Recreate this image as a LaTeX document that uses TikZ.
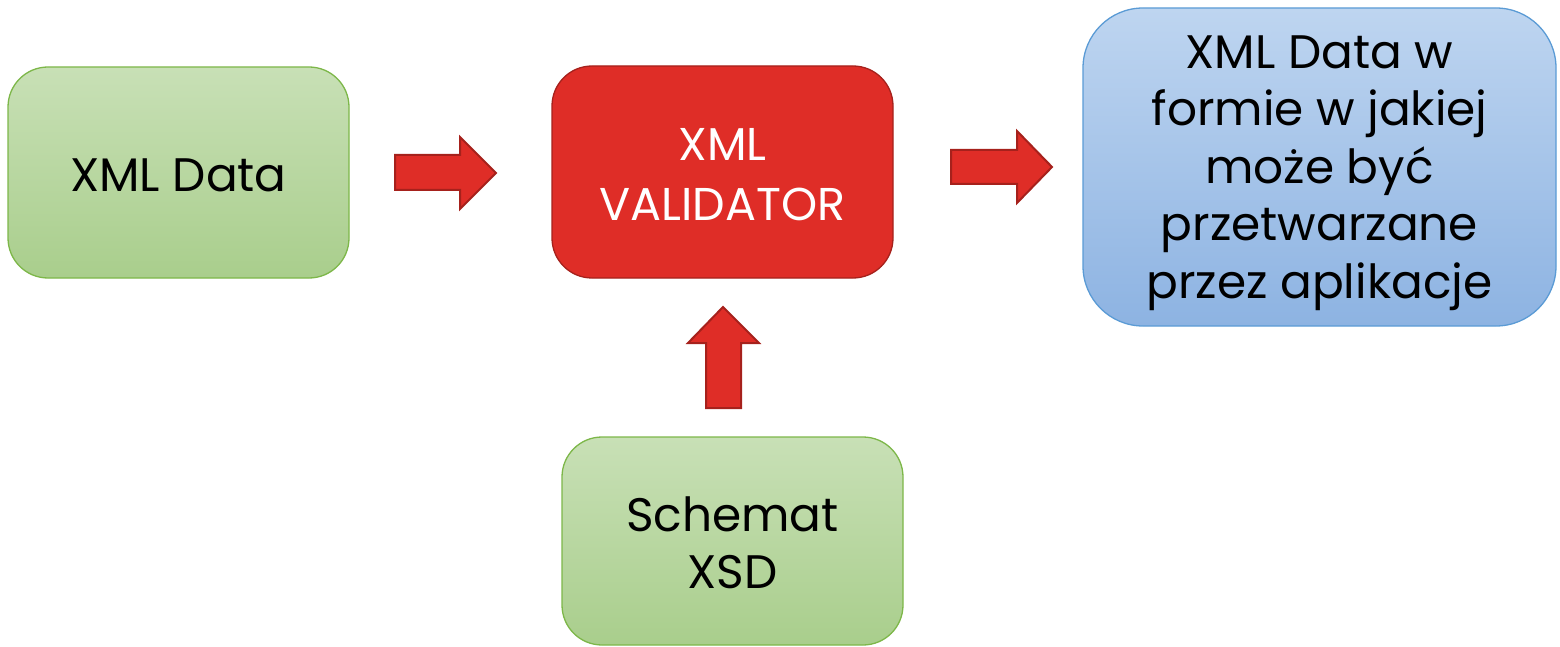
\documentclass[tikz,border=0pt]{standalone}
\usepackage{fontspec}
\setmainfont{Poppins}
\definecolor{gtop}{HTML}{C8E0B6}
\definecolor{gbot}{HTML}{A9CE8C}
\definecolor{gline}{HTML}{7DB749}
\definecolor{rfill}{HTML}{DF2D27}
\definecolor{rline}{HTML}{A6211C}
\definecolor{btop}{HTML}{BED5F0}
\definecolor{bbot}{HTML}{8DB3E2}
\definecolor{bline}{HTML}{5B9BD5}
\tikzset{
  box/.style={draw, line width=1.3pt, rounded corners=40pt, inner sep=0pt},
  greenbox/.style={box, draw=gline, top color=gtop, bottom color=gbot},
  redbox/.style={box, draw=rline, fill=rfill},
  bluebox/.style={box, draw=bline, top color=btop, bottom color=bbot, rounded corners=60pt},
  label/.style={align=center, inner sep=0pt, text=black, font=\fontsize{47}{57.5}\selectfont},
  blockarrow/.style={draw=rline, fill=rfill, line width=2pt, line join=miter}
}
\begin{document}
\begin{tikzpicture}[x=1pt,y=-1pt]
\useasboundingbox (0,0) rectangle (1560,647);
\node[greenbox, minimum width=341pt, minimum height=211pt] (data) at (178.5,172.5) {};
\node[label] (datat) at ([yshift=-3pt]data.center) {XML Data};
\node[redbox, minimum width=341pt, minimum height=212pt] (valid) at (722.5,172) {};
\node[label, text=white, font=\fontsize{46}{60}\selectfont] (validt) at ([yshift=-3pt]valid.center) {XML\\VALIDATOR};
\node[bluebox, minimum width=473pt, minimum height=318pt] (out) at (1319.5,167) {};
\node[label] (outt) at ([yshift=-6pt]out.center) {XML Data w\\formie w jakiej\\może być\\przetwarzane\\przez aplikacje};
\node[greenbox, minimum width=341pt, minimum height=208pt] (xsd) at (732.5,541) {};
\node[label] (xsdt) at ([yshift=-2pt]xsd.center) {Schemat\\XSD};
% block arrows
\draw[blockarrow] (395,155) -- (460,155) -- (460,137) -- (496,173) -- (460,209) -- (460,190) -- (395,190) -- cycle;
\draw[blockarrow] (951,150) -- (1017,150) -- (1017,131) -- (1052,167) -- (1017,203) -- (1017,184) -- (951,184) -- cycle;
\draw[blockarrow] (706,408) -- (706,343) -- (688,343) -- (723,307) -- (759,343) -- (741,343) -- (741,408) -- cycle;
\end{tikzpicture}
\end{document}
